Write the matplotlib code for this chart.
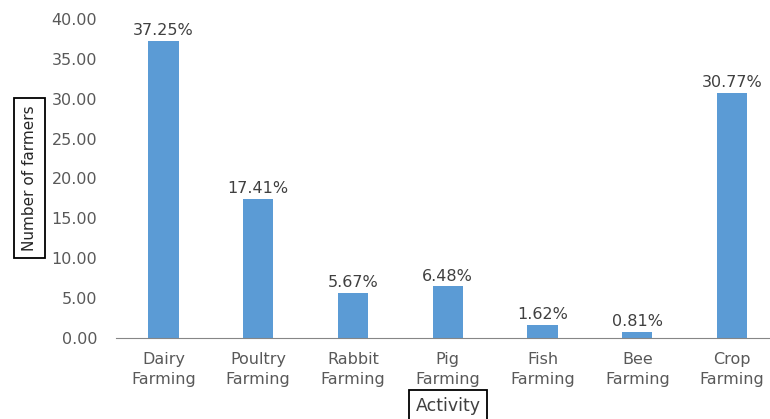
import numpy as np
import matplotlib
matplotlib.use("Agg")
import matplotlib.pyplot as plt

activities = ["Dairy\nFarming", "Poultry\nFarming", "Rabbit\nFarming", "Pig\nFarming",
              "Fish\nFarming", "Bee\nFarming", "Crop\nFarming"]
values = [37.25, 17.41, 5.67, 6.48, 1.62, 0.81, 30.77]
yticks = [0, 5, 10, 15, 20, 25, 30, 35, 40]

plt.rcParams['font.family'] = ['DejaVu Sans']

fig = plt.figure(figsize=(7.7, 4.19), dpi=100)
ax = fig.add_axes([116/770, 1-338/419, (779.5-116)/770, (338-19)/419])

x = np.arange(len(values))
bars = ax.bar(x, values, width=0.32, color='#5B9BD5')
ax.bar_label(bars, labels=['%.2f%%' % v for v in values], padding=2,
             fontsize=11.5, color='#404040')

ax.set_xlim(-0.5, len(values) - 0.5)
ax.set_ylim(0, 40)
ax.set_yticks(yticks)
ax.set_yticklabels(['%.2f' % t for t in yticks], fontsize=11.5, color='#595959')
ax.set_xticks(x)
ax.set_xticklabels(activities, fontsize=11.5, color='#595959', linespacing=1.45)
ax.tick_params(axis='both', length=0)
ax.tick_params(axis='y', pad=13.5)
ax.tick_params(axis='x', pad=10)

for s in ['top', 'right', 'left']:
    ax.spines[s].set_visible(False)
ax.spines['bottom'].set_color('#868686')

box = dict(boxstyle='square,pad=0.5', facecolor='white', edgecolor='black', linewidth=1.3)
fig.text(29.5/770, 1-178/419, "Number of farmers", rotation=90, ha='center', va='center',
         fontsize=11, color='#262626', bbox=box)
fig.text(448/770, 1-406/419, "Activity", ha='center', va='center',
         fontsize=12.5, color='#404040', bbox=dict(boxstyle='square,pad=0.4', facecolor='white',
                                                   edgecolor='black', linewidth=1.3))

fig.savefig("out.png", dpi=100)
